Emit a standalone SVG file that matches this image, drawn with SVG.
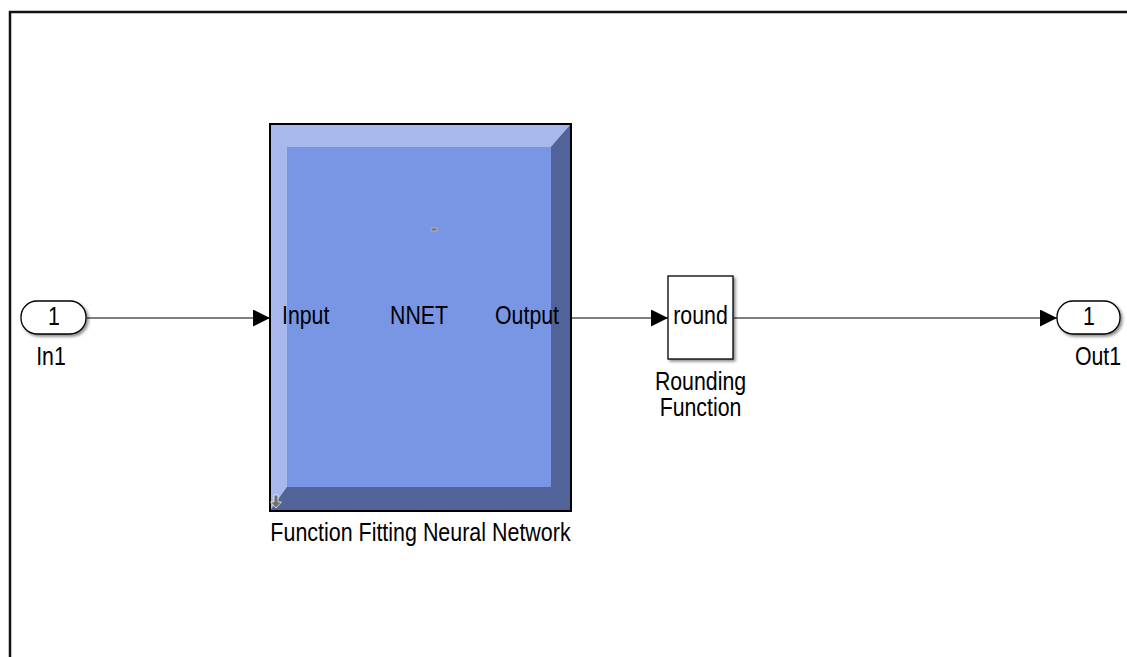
<svg xmlns="http://www.w3.org/2000/svg" width="1127" height="657" viewBox="0 0 1127 657">
<style>
.t{font-family:"Liberation Sans",Arial,sans-serif;font-size:25px;fill:#000}
.c{stroke:#000;stroke-width:1.2;fill:none}
</style>
<defs>
<marker id="ah" viewBox="0 0 10 10" refX="10" refY="5" markerWidth="17" markerHeight="17" markerUnits="userSpaceOnUse" orient="auto">
<path d="M0,0 L10,5 L0,10 Z" fill="#000"/>
</marker>
<filter id="sh" x="-20%" y="-20%" width="150%" height="150%">
<feDropShadow dx="2" dy="2" stdDeviation="1.5" flood-color="#000" flood-opacity="0.45"/>
</filter>
</defs>
<rect width="1127" height="657" fill="#fff"/>
<path d="M10,657 L10,12 L1127,12" fill="none" stroke="#111" stroke-width="2.5"/>
<g id="connectors">
<line class="c" x1="87" y1="318" x2="270" y2="318" marker-end="url(#ah)"/>
<line class="c" x1="571" y1="318" x2="668" y2="318" marker-end="url(#ah)"/>
<line class="c" x1="734" y1="318" x2="1057" y2="318" marker-end="url(#ah)"/>
</g>
<g id="in1">
<rect x="21" y="301" width="65" height="33" rx="16" ry="16" fill="#fff" stroke="#000" stroke-width="1.3" filter="url(#sh)"/>
<text class="t" text-anchor="middle" transform="translate(54,325) scale(0.853,1)">1</text>
<text class="t" text-anchor="middle" transform="translate(51,365) scale(0.853,1)">In1</text>
</g>
<g id="nnet">
<rect x="270" y="124" width="301" height="387" fill="#7896e4"/>
<polygon points="270,124 571,124 551,147 287,147 287,487 270,511" fill="#a8b8ec"/>
<polygon points="571,124 571,511 270,511 287,487 551,487 551,147" fill="#516399"/>
<rect x="270" y="124" width="301" height="387" fill="none" stroke="#000" stroke-width="2"/>
<rect x="431" y="228" width="6" height="3" fill="#777" stroke="#ccc" stroke-width="0.6"/>
<path d="M274,495 h4 v7 h3.5 l-5.5,6 l-5.5,-6 h3.5 z" fill="#6f6f6f" stroke="#eee" stroke-width="0.8"/>
<text class="t" transform="translate(282,323.5) scale(0.853,1)">Input</text>
<text class="t" text-anchor="middle" transform="translate(419,323.5) scale(0.853,1)">NNET</text>
<text class="t" text-anchor="end" transform="translate(559,323.5) scale(0.853,1)">Output</text>
<text class="t" text-anchor="middle" transform="translate(420.5,541) scale(0.858,1)">Function Fitting Neural Network</text>
</g>
<g id="round">
<rect x="668" y="276" width="65" height="83" fill="#fff" stroke="#000" stroke-width="1.3" filter="url(#sh)"/>
<text class="t" text-anchor="middle" transform="translate(700.5,323.5) scale(0.853,1)">round</text>
<text class="t" text-anchor="middle" transform="translate(700.5,390) scale(0.853,1)">Rounding</text>
<text class="t" text-anchor="middle" transform="translate(700.5,416) scale(0.853,1)">Function</text>
</g>
<g id="out1">
<rect x="1057" y="301" width="63" height="33" rx="16" ry="16" fill="#fff" stroke="#000" stroke-width="1.3" filter="url(#sh)"/>
<text class="t" text-anchor="middle" transform="translate(1089,325) scale(0.853,1)">1</text>
<text class="t" text-anchor="middle" transform="translate(1098,365) scale(0.853,1)">Out1</text>
</g>
</svg>
